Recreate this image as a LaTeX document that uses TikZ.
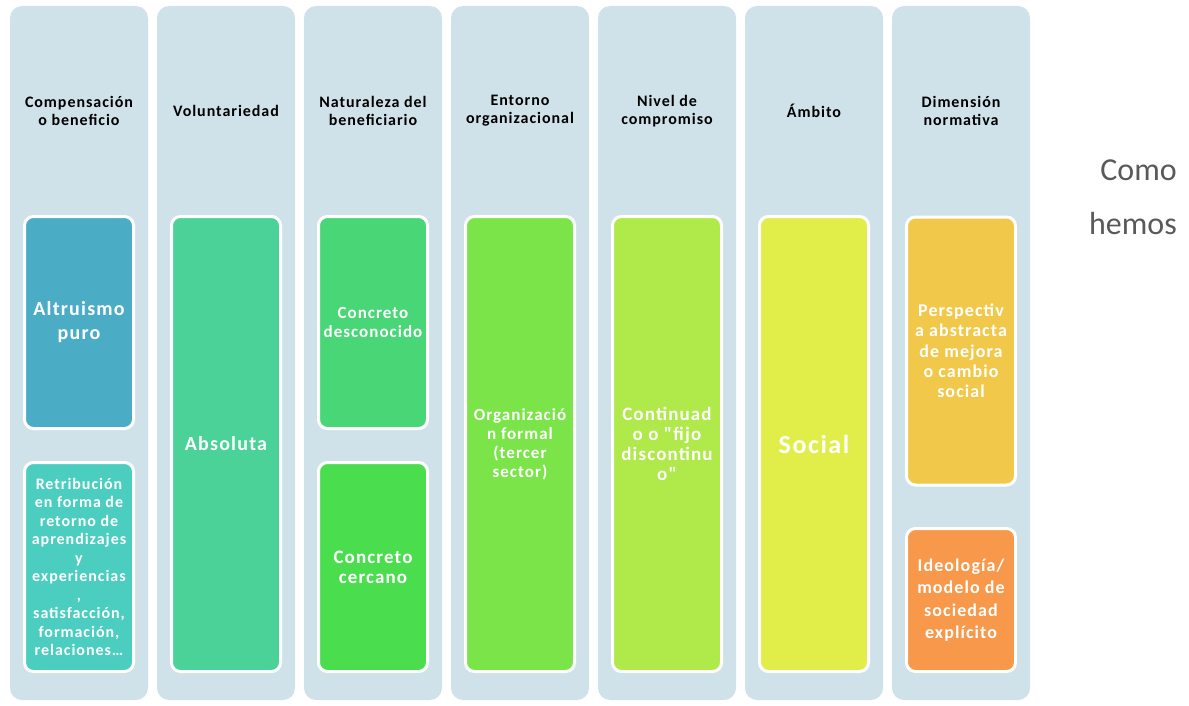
\documentclass[tikz,border=0pt]{standalone}
\usepackage{fontspec}
\setmainfont{Carlito}
\newfontfamily\spaced{Carlito}[LetterSpace=6, Ligatures=TeXOff]
\definecolor{colbg}{RGB}{208,226,233}
\definecolor{altruc}{RGB}{75,172,198}
\definecolor{retric}{RGB}{75,205,192}
\definecolor{absolc}{RGB}{74,210,152}
\definecolor{desconc}{RGB}{72,214,118}
\definecolor{cercac}{RGB}{74,222,78}
\definecolor{organc}{RGB}{123,228,73}
\definecolor{continc}{RGB}{175,233,74}
\definecolor{socialc}{RGB}{225,238,74}
\definecolor{perspc}{RGB}{242,200,74}
\definecolor{ideolc}{RGB}{247,152,74}
\definecolor{greytext}{RGB}{89,89,89}
\begin{document}
\begin{tikzpicture}[x=1pt,y=-1pt,
  column/.style={fill=colbg, rounded corners=12pt, minimum width=138pt, minimum height=694pt, inner sep=0pt},
  head/.style={align=center, font=\spaced\fontsize{16}{18}\selectfont\bfseries, text=black},
  cell/.style={draw=white, line width=3pt, rounded corners=9pt, minimum width=109pt, align=center, text=white, inner sep=0pt}]
\useasboundingbox (0,0) rectangle (1189,706);
\node[column] (c1) at (79,353) {};
\node[column] (c2) at (226,353) {};
\node[column] (c3) at (373,353) {};
\node[column] (c4) at (520,353) {};
\node[column] (c5) at (667,353) {};
\node[column] (c6) at (814,353) {};
\node[column] (c7) at (961,353) {};
\node[head] (h1) at (79,111) {Compensación\\o beneficio};
\node[head] (h2) at (226,111) {Voluntariedad};
\node[head] (h3) at (373,111) {Naturaleza del\\beneficiario};
\node[head] (h4) at (520,111) {Entorno\\organizacional};
\node[head] (h5) at (667,111) {Nivel de\\compromiso};
\node[head] (h6) at (814,111) {Ámbito};
\node[head] (h7) at (961,111) {Dimensión\\normativa};
\node[cell, fill=altruc, minimum height=212pt, font=\spaced\fontsize{20}{24}\selectfont\bfseries] (altruismo) at (79,322.5) {Altruismo\\puro};
\node[cell, fill=retric, minimum height=209pt, font=\spaced\fontsize{16}{18.5}\selectfont\bfseries] (retribucion) at (79,567) {Retribución\\en forma de\\retorno de\\aprendizajes\\y\\experiencias\\,\\satisfacción,\\formación,\\relaciones…};
\node[cell, fill=absolc, minimum height=455pt, font=\spaced\fontsize{20}{24}\selectfont\bfseries] (absoluta) at (226,444) {Absoluta};
\node[cell, fill=desconc, minimum height=212pt, font=\spaced\fontsize{17}{18.5}\selectfont\bfseries] (desconocido) at (373,322.5) {Concreto\\desconocido};
\node[cell, fill=cercac, minimum height=209pt, font=\spaced\fontsize{19}{20}\selectfont\bfseries] (cercano) at (373,567) {Concreto\\cercano};
\node[cell, fill=organc, minimum height=455pt, font=\spaced\fontsize{17}{19}\selectfont\bfseries] (organizacion) at (520,444) {Organizació\\n formal\\(tercer\\sector)};
\node[cell, fill=continc, minimum height=455pt, font=\spaced\fontsize{19}{20}\selectfont\bfseries] (continuado) at (667,444) {Continuad\\o o "fijo\\discontinu\\o"};
\node[cell, fill=socialc, minimum height=455pt, font=\spaced\fontsize{26}{30}\selectfont\bfseries] (social) at (814,444) {Social};
\node[cell, fill=perspc, minimum height=268pt, font=\spaced\fontsize{18}{20.3}\selectfont\bfseries] (perspectiva) at (961,351) {Perspectiv\\a abstracta\\de mejora\\o cambio\\social};
\node[cell, fill=ideolc, minimum height=143pt, font=\spaced\fontsize{18}{22.5}\selectfont\bfseries] (ideologia) at (961,600) {Ideología/\\modelo de\\sociedad\\explícito};
\node[anchor=east, inner sep=0pt, text=greytext, font=\fontsize{32}{36}\selectfont] (como) at (1177,170) {Como};
\node[anchor=east, inner sep=0pt, text=greytext, font=\fontsize{32}{36}\selectfont] (hemos) at (1177,224) {hemos};
\end{tikzpicture}
\end{document}
